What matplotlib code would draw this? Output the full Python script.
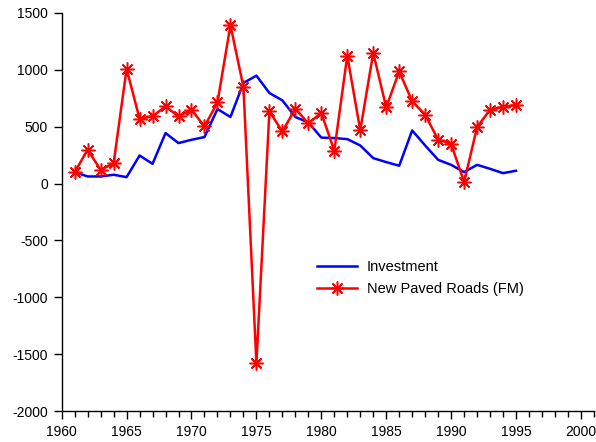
import matplotlib
matplotlib.use("Agg")
import matplotlib.pyplot as plt
from matplotlib.ticker import MultipleLocator

plt.rcParams['font.family'] = ['Liberation Sans', 'DejaVu Sans']
plt.rcParams['axes.unicode_minus'] = False

years = list(range(1961, 1996))

investment = [100, 62, 62, 77, 56, 246, 173, 443, 355, 384,
              408, 654, 584, 883, 947, 795, 730, 584, 537, 403,
              399, 390, 334, 223, 188, 156, 466, 334, 208, 164,
              100, 164, 129, 91, 112]

paved_roads = [100, 296, 120, 176, 1006, 569, 589, 677, 589, 648,
               501, 712, 1390, 848, -1580, 633, 457, 657, 528, 620,
               288, 1123, 466, 1147, 668, 985, 721, 604, 384, 349,
               12, 496, 648, 672, 690]

fig = plt.figure(figsize=(5.96, 4.42), dpi=100)
ax = fig.add_axes([0.1035, 0.0695, 0.893, 0.9018])

ax.plot(years, investment, color='#0000ff', lw=1.8, label='Investment')
ax.plot(years, paved_roads, color='#ff0000', lw=1.8, marker=(8, 2, 0),
        markersize=10, markeredgewidth=1.1, label='New Paved Roads (FM)')

ax.set_xlim(1960, 2001)
ax.set_ylim(-2000, 1500)
ax.xaxis.set_major_locator(MultipleLocator(5))
ax.xaxis.set_minor_locator(MultipleLocator(1))
ax.yaxis.set_major_locator(MultipleLocator(500))

for s in ('top', 'right'):
    ax.spines[s].set_visible(False)
for s in ('left', 'bottom'):
    ax.spines[s].set_linewidth(1.0)

ax.tick_params(axis='x', which='major', direction='out', length=6, width=1.0,
               labelsize=10, pad=4)
ax.tick_params(axis='x', which='minor', direction='out', length=4, width=1.0)
ax.tick_params(axis='y', which='major', direction='out', length=6, width=1.0,
               labelsize=10, pad=4)

ax.legend(loc='upper left', bbox_to_anchor=(0.468, 0.394), frameon=False,
          fontsize=10.5, handlelength=2.75, handletextpad=0.7, labelspacing=0.55,
          borderaxespad=0)

fig.savefig('out.png', dpi=100)
